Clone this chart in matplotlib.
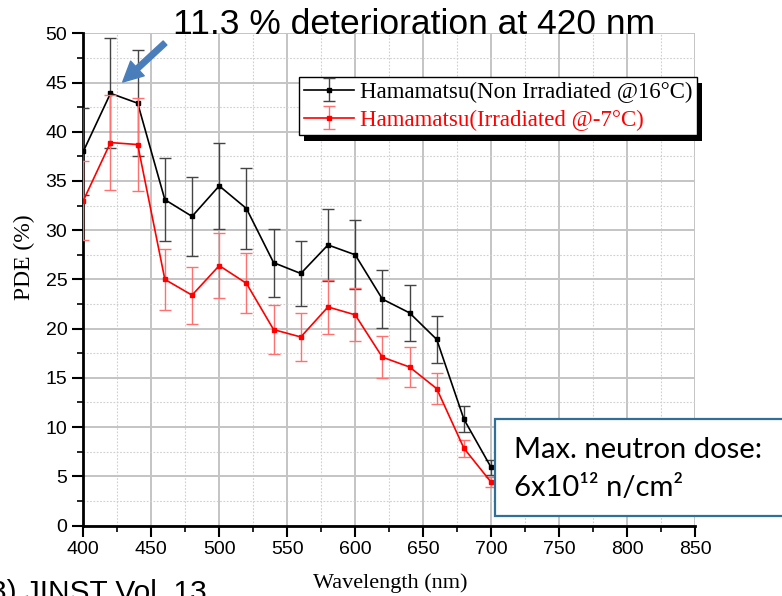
import matplotlib
matplotlib.use("Agg")
import matplotlib.pyplot as plt
from matplotlib.patches import Rectangle
from matplotlib.ticker import MultipleLocator

wavelength = [400, 420, 440, 460, 480, 500, 520, 540, 560, 580, 600, 620, 640, 660, 680, 700]
pde_non_irr = [38.0, 43.9, 42.9, 33.1, 31.4, 34.5, 32.2, 26.7, 25.6, 28.5, 27.5, 23.0, 21.6, 18.9, 10.8, 5.9]
err_non_irr = [4.4, 5.6, 5.4, 4.2, 4.05, 4.4, 4.15, 3.45, 3.3, 3.65, 3.5, 2.95, 2.85, 2.4, 1.35, 0.8]
pde_irr = [33.0, 38.9, 38.7, 25.0, 23.4, 26.4, 24.6, 19.9, 19.15, 22.2, 21.4, 17.1, 16.1, 13.9, 7.85, 4.4]
err_irr = [4.0, 4.8, 4.7, 3.1, 2.9, 3.3, 3.05, 2.45, 2.4, 2.7, 2.7, 2.15, 2.05, 1.6, 0.85, 0.5]

label_non_irr = "Hamamatsu(Non Irradiated @16°C)"
label_irr = "Hamamatsu(Irradiated @-7°C)"

W, H = 782, 596
fig = plt.figure(figsize=(W / 100, H / 100), dpi=100)
ax = fig.add_axes([83.3 / W, 1 - 525.5 / H, (695 - 83.3) / W, (525.5 - 33.3) / H])

ax.errorbar(wavelength, pde_non_irr, yerr=err_non_irr, color="black", lw=1.2,
            marker="s", ms=3, ecolor="#444444", elinewidth=1.0, capsize=4, capthick=1.0,
            label=label_non_irr, zorder=4)
ax.errorbar(wavelength, pde_irr, yerr=err_irr, color="#ff0000", lw=1.2,
            marker="s", ms=3, ecolor="#ff7070", elinewidth=1.0, capsize=4, capthick=1.0,
            label=label_irr, zorder=5)

ax.set_xlim(400, 850)
ax.set_ylim(0, 50)
ax.xaxis.set_major_locator(MultipleLocator(50))
ax.xaxis.set_minor_locator(MultipleLocator(25))
ax.yaxis.set_major_locator(MultipleLocator(5))
ax.yaxis.set_minor_locator(MultipleLocator(2.5))
ax.grid(which="major", color="#c4c4c4", lw=1.4, ls="-", zorder=0)
ax.grid(which="minor", color="#cfcfcf", lw=0.8, ls=(0, (1.5, 1.5)), zorder=0)
ax.set_axisbelow(True)

for s in ["top", "right"]:
    ax.spines[s].set_visible(False)
for s in ["left", "bottom"]:
    ax.spines[s].set_linewidth(2.0)
ax.tick_params(which="major", direction="out", length=8, width=1.5, labelsize=14)
ax.tick_params(which="minor", direction="out", length=4, width=1.2)
for lab in ax.get_xticklabels() + ax.get_yticklabels():
    lab.set_fontfamily("Liberation Sans")

ax.set_xlabel("Wavelength (nm)", family="Liberation Serif", fontsize=16)
ax.xaxis.set_label_coords((390 - 83.3) / 611.7, -(583 - 525.5) / 492.2)
ax.xaxis.label.set_va("center")
ax.set_ylabel("PDE (%)", family="Liberation Serif", fontsize=17)
ax.yaxis.set_label_coords((24 - 83.3) / 611.7, (525.5 - 257) / 492.2)
ax.yaxis.label.set_va("center")

leg = ax.legend(loc="upper right", bbox_to_anchor=(697 / W, 1 - 77 / H),
                bbox_transform=fig.transFigure, prop={"family": "Liberation Serif", "size": 16.5},
                frameon=True, fancybox=False, edgecolor="black", framealpha=1,
                handlelength=2.2, borderpad=0.2, labelspacing=0.3, handletextpad=0.25,
                borderaxespad=0)
leg.get_frame().set_linewidth(1.0)
leg.set_zorder(10)
for txt, c in zip(leg.get_texts(), ["black", "#ff0000"]):
    txt.set_color(c)

fig.canvas.draw()
bb = leg.get_window_extent()
ax.add_patch(Rectangle((bb.x0 + 5, bb.y0 - 6), bb.width, bb.height,
                       transform=None, facecolor="black", edgecolor="none",
                       zorder=9, clip_on=False))

fig.text(414 / W, 1 - 25 / H, "11.3 % deterioration at 420 nm", family="Liberation Sans",
         fontsize=25.5, ha="center", va="center")

ax.annotate("", xy=(420, pde_non_irr[1]), xycoords="data",
            xytext=(165, H - 43), textcoords="figure pixels",
            arrowprops=dict(arrowstyle="simple,head_length=0.8,head_width=0.8,tail_width=0.22",
                            color="#4a7ebb", shrinkA=0, shrinkB=12, mutation_scale=18),
            annotation_clip=False, zorder=12)

fig.patches.append(Rectangle((495, H - 516), 320, 97, transform=None, facecolor="white",
                             edgecolor="#2f6f98", lw=1.6, zorder=20))
fig.text(514 / W, 1 - 450 / H, "Max. neutron dose:", family="Lato", fontsize=21,
         ha="left", va="center", zorder=21)
fig.text(514 / W, 1 - 488 / H, "6x10¹² n/cm²", family="Lato", fontsize=21,
         ha="left", va="center", zorder=21)

fig.text(-10 / W, 1 - 601 / H, "3) JINST Vol. 13", family="Liberation Sans",
         fontsize=21.5, ha="left", va="baseline")

fig.savefig("out.png", dpi=100)
